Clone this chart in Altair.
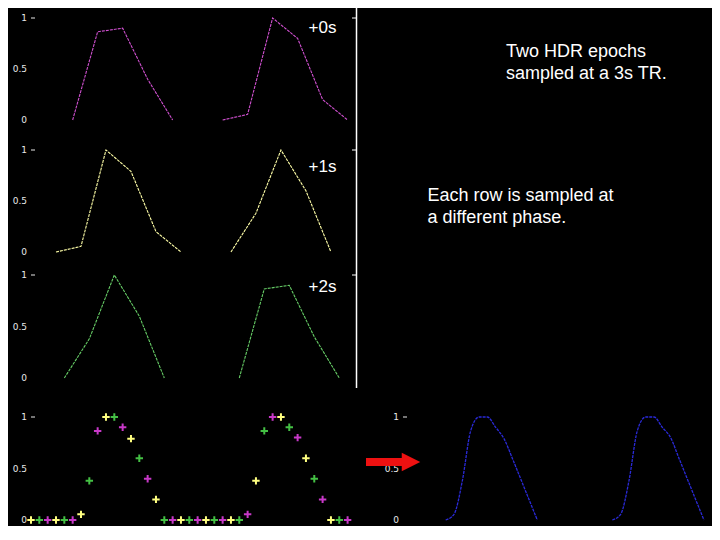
import altair as alt
import pandas as pd

# ---------------- data ----------------
time_s = list(range(39))
hdr = [0, 0, 0, 0, 0, 0, 0.055, 0.38, 0.865, 1.0, 1.0, 0.9, 0.79, 0.6, 0.4, 0.2,
       0, 0, 0, 0, 0, 0, 0, 0, 0, 0,
       0.055, 0.38, 0.865, 1.0, 1.0, 0.9, 0.8, 0.6, 0.4, 0.2,
       0, 0, 0]
row_labels = ["+0s", "+1s", "+2s"]
row_phase_mod = [2, 0, 1]                       # time index mod 3 sampled by each row
row_epochs = [[(5, 17), (23, 38)], [(3, 18), (24, 36)], [(4, 16), (25, 37)]]
combined_epochs = [(5, 16), (25, 36)]
tick_values = [0, 0.5, 1]
tick_labels = ["0", "0.5", "1"]
note_1 = ["Two HDR epochs", "sampled at a 3s TR."]
note_2 = ["Each row is sampled at", "a different phase."]

# ---------------- styles / geometry ----------------
line_colors = ["#d050d0", "#ffffa8", "#66cc66"]
marker_colors = ["#c838c8", "#ffff80", "#44c044"]
blue = "#2a2ad8"
LEFT_X = [23, 339.6]
RIGHT_X = [396, 712.6]
ROW_Y = [[112, 10], [244, 142], [370, 267]]
BOTTOM_Y = [512, 409]
FONT = "Liberation Sans"


def xs(rng):
    return alt.Scale(domain=[0, 38], range=rng, nice=False, zero=False)


def ys(rng):
    return alt.Scale(domain=[0, 1], range=rng, nice=False, zero=False)


def tick_label_layer(yrng, xr):
    df = pd.DataFrame({"v": tick_values, "lab": tick_labels})
    lab = alt.Chart(df).mark_text(align="right", baseline="middle", color="#e8e8e8",
                                  fontSize=9, font="DejaVu Sans").encode(
        x=alt.value(xr), y=alt.Y("v:Q", scale=ys(yrng), axis=None), text="lab:N")
    tk = alt.Chart(pd.DataFrame({"v": [1]})).mark_rule(color="#e8e8e8", strokeWidth=1).encode(
        x=alt.value(xr + 4), x2=alt.value(xr + 8), y=alt.Y("v:Q", scale=ys(yrng), axis=None))
    return [lab, tk]


layers = []

# top three rows: each phase sampled every 3 s
for r in range(3):
    recs = []
    for e, (a, b) in enumerate(row_epochs[r]):
        for t in time_s:
            if a <= t <= b and t % 3 == row_phase_mod[r]:
                recs.append({"t": t, "v": hdr[t], "epoch": e})
    df = pd.DataFrame(recs)
    layers.append(alt.Chart(df).mark_line(color=line_colors[r], strokeWidth=1.1,
                                          strokeDash=[3, 1]).encode(
        x=alt.X("t:Q", scale=xs(LEFT_X), axis=None),
        y=alt.Y("v:Q", scale=ys(ROW_Y[r]), axis=None),
        detail="epoch:N"))
    layers += tick_label_layer(ROW_Y[r], 19)
    # tick on the vertical divider
    layers.append(alt.Chart(pd.DataFrame({"v": [1]})).mark_rule(color="white", strokeWidth=1).encode(
        x=alt.value(344), x2=alt.value(348.5), y=alt.Y("v:Q", scale=ys(ROW_Y[r]), axis=None)))
    layers.append(alt.Chart(alt.Data(values=[{}])).mark_text(
        text=row_labels[r], align="center", baseline="alphabetic", fontSize=17,
        font=FONT, color="white").encode(
        x=alt.value(314.5), y=alt.value([25, 163.5, 284][r])))

# vertical divider
layers.append(alt.Chart(alt.Data(values=[{}])).mark_rule(color="white", strokeWidth=1.5).encode(
    x=alt.value(348.5), y=alt.value(0), y2=alt.value(380)))

# bottom-left: all samples combined
mrec = []
for t in time_s:
    ph = [i for i in range(3) if row_phase_mod[i] == t % 3][0]
    mrec.append({"t": t, "v": hdr[t], "row": row_labels[ph]})
mdf = pd.DataFrame(mrec)
layers.append(alt.Chart(mdf).mark_point(shape="M-1,0L1,0M0,-1L0,1", filled=False,
                                        size=55, strokeWidth=2, opacity=1).encode(
    x=alt.X("t:Q", scale=xs(LEFT_X), axis=None),
    y=alt.Y("v:Q", scale=ys(BOTTOM_Y), axis=None),
    color=alt.Color("row:N", scale=alt.Scale(domain=row_labels, range=marker_colors), legend=None)))
layers += tick_label_layer(BOTTOM_Y, 19)

# bottom-right: combined 1 s resolution HDR
crec = []
for e, (a, b) in enumerate(combined_epochs):
    for t in time_s:
        if a <= t <= b:
            crec.append({"t": t, "v": hdr[t], "epoch": e})
cdf = pd.DataFrame(crec)
layers += tick_label_layer(BOTTOM_Y, 391)
layers.append(alt.Chart(cdf).mark_line(color=blue, strokeWidth=1.3, strokeDash=[3, 1],
                                       interpolate="monotone").encode(
    x=alt.X("t:Q", scale=xs(RIGHT_X), axis=None),
    y=alt.Y("v:Q", scale=ys(BOTTOM_Y), axis=None),
    detail="epoch:N"))

# red arrow
layers.append(alt.Chart(alt.Data(values=[{}])).mark_rule(color="#ee1111", strokeWidth=8,
                                                         strokeCap="butt").encode(
    x=alt.value(358), x2=alt.value(396), y=alt.value(454)))
layers.append(alt.Chart(alt.Data(values=[{}])).mark_point(
    shape="M-1,-1L1,0L-1,1Z", filled=True, size=340, color="#ee1111", opacity=1).encode(
    x=alt.value(403), y=alt.value(454)))

# notes
layers.append(alt.Chart(alt.Data(values=[{}])).mark_text(
    text=note_1, align="left", baseline="alphabetic", fontSize=18, font=FONT,
    color="white", lineHeight=22).encode(x=alt.value(498), y=alt.value(49)))
layers.append(alt.Chart(alt.Data(values=[{}])).mark_text(
    text=note_2, align="left", baseline="alphabetic", fontSize=18, font=FONT,
    color="white", lineHeight=22).encode(x=alt.value(419.5), y=alt.value(193)))

chart = alt.layer(*layers).resolve_scale(
    x="independent", y="independent", color="independent"
).properties(
    width=704, height=518, padding=0,
    autosize=alt.AutoSizeParams(type="none"), background="black"
).configure_view(strokeWidth=0)

chart.save("out.html", embed_options={"renderer": "svg", "actions": False})
